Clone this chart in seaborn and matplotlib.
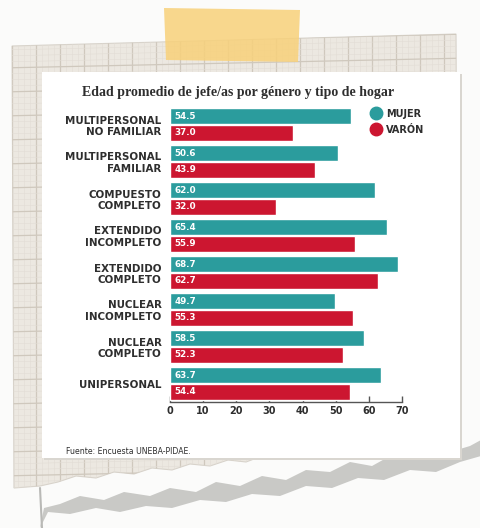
import numpy as np
import pandas as pd
import matplotlib
matplotlib.use("Agg")
import matplotlib.pyplot as plt
from matplotlib.patches import Polygon, Rectangle
from matplotlib.lines import Line2D
import seaborn as sns

# ---- data -------------------------------------------------------------
categorias = [
    "MULTIPERSONAL\nNO FAMILIAR",
    "MULTIPERSONAL\nFAMILIAR",
    "COMPUESTO\nCOMPLETO",
    "EXTENDIDO\nINCOMPLETO",
    "EXTENDIDO\nCOMPLETO",
    "NUCLEAR\nINCOMPLETO",
    "NUCLEAR\nCOMPLETO",
    "UNIPERSONAL",
]
mujer = [54.5, 50.6, 62.0, 65.4, 68.7, 49.7, 58.5, 63.7]
varon = [37.0, 43.9, 32.0, 55.9, 62.7, 55.3, 52.3, 54.4]
xticks = [0, 10, 20, 30, 40, 50, 60, 70]

TEAL = "#2b9c9d"
RED = "#cc1630"
INK = "#2e2e2e"

df = pd.DataFrame({
    "tipo": categorias * 2,
    "genero": ["MUJER"] * len(mujer) + ["VARÓN"] * len(varon),
    "edad": mujer + varon,
})

sns.set_theme(style="white")
plt.rcParams["font.family"] = ["DejaVu Sans"]

W, H = 481, 528
fig = plt.figure(figsize=(W / 100, H / 100), dpi=100)
fig.patch.set_facecolor("#fbfbfa")

# ---- background: squared paper, tape, torn edge, white card ----------
bg = fig.add_axes([0, 0, 1, 1], zorder=0)
bg.set_xlim(0, W)
bg.set_ylim(H, 0)
bg.axis("off")

torn = [(458, 425), (440, 428), (425, 436), (405, 434), (388, 442), (370, 440),
        (352, 448), (334, 446), (318, 452), (300, 450), (282, 458), (262, 456),
        (246, 462), (228, 460), (210, 466), (190, 464), (172, 470), (152, 468),
        (134, 474), (114, 472), (96, 478), (76, 476), (58, 482), (40, 486), (14, 488)]
paper = Polygon([(12, 46), (456, 34)] + torn, closed=True,
                facecolor="#ece8e1", edgecolor="#d8d3cb", lw=0.8, zorder=1)
bg.add_patch(paper)
for gx in np.arange(12, 460, 6):
    major = (gx - 12) % 24 == 0
    ln = Line2D([gx, gx], [20, 500], color="#cfc8bd" if major else "#e2ddd5",
                lw=0.9 if major else 0.4, zorder=2)
    ln.set_clip_path(paper)
    bg.add_line(ln)
for gy in np.arange(40, 500, 6):
    major = (gy - 40) % 24 == 0
    ln = Line2D([0, 470], [gy + 4, gy - 6], color="#cfc8bd" if major else "#e2ddd5",
                lw=0.9 if major else 0.4, zorder=2)
    ln.set_clip_path(paper)
    bg.add_line(ln)

shadow = [(481, 440), (470, 446), (450, 452), (430, 450), (412, 458), (390, 456),
          (372, 466), (350, 462), (330, 472), (306, 470), (286, 480), (262, 476),
          (240, 486), (216, 482), (196, 492), (170, 488), (150, 496), (124, 492),
          (104, 500), (80, 496), (60, 504), (44, 508), (40, 528), (48, 512),
          (70, 514), (96, 508), (120, 512), (146, 506), (172, 508), (200, 500),
          (226, 502), (252, 494), (280, 496), (306, 486), (332, 488), (358, 478),
          (384, 480), (410, 470), (436, 472), (460, 462), (481, 456)]
bg.add_patch(Polygon(shadow, closed=True, facecolor="#c9c9c6", edgecolor="none",
                     zorder=3))
bg.add_line(Line2D([40, 42], [488, 528], color="#b9b9b6", lw=1.5, zorder=3))

bg.add_patch(Rectangle((44, 74), 418, 386, facecolor="#d9d6d0", edgecolor="none",
                       zorder=4))
bg.add_patch(Rectangle((42, 72), 418, 386, facecolor="white", edgecolor="none",
                       zorder=5))
bg.add_patch(Polygon([(164, 8), (300, 10), (298, 62), (166, 60)], closed=True,
                     facecolor="#f8d17a", alpha=0.85, edgecolor="none", zorder=6))

# ---- chart ------------------------------------------------------------
ax = fig.add_axes([170 / W, 1 - 402 / H, 232 / W, 296 / H], zorder=2)
ax.patch.set_alpha(0)
sns.barplot(data=df, y="tipo", x="edad", hue="genero", orient="h",
            palette={"MUJER": TEAL, "VARÓN": RED}, width=0.9, gap=0.03,
            saturation=1, ax=ax, legend=False)

# value labels written at the inner left end of each bar
for cont in ax.containers:
    for rect, val in zip(cont.patches, cont.datavalues):
        ax.text(1.3, rect.get_y() + rect.get_height() / 2, f"{val:.1f}",
                color="white", fontsize=6.3, fontweight="bold",
                ha="left", va="center")

ax.set_xlim(0, 70)
ax.set_xticks(xticks)
ax.set_xticklabels([str(v) for v in xticks], fontsize=7, color=INK,
                   fontweight="bold")
ax.set_xlabel("")
ax.set_ylabel("")
ax.tick_params(axis="y", length=0, pad=6)
ax.tick_params(axis="x", direction="in", length=4, width=1, color="#555555",
               bottom=True, pad=3)
for lab in ax.get_yticklabels():
    lab.set_fontsize(7.4)
    lab.set_fontweight("bold")
    lab.set_color(INK)
    lab.set_multialignment("right")
for side in ["top", "right", "left"]:
    ax.spines[side].set_visible(False)
ax.spines["bottom"].set_color("#555555")
ax.spines["bottom"].set_linewidth(1)

# ---- title, legend, source -------------------------------------------
fig.text(238 / W, 1 - 92 / H, "Edad promedio de jefe/as por género y tipo de hogar",
         family="Liberation Serif", fontweight="bold", fontsize=10,
         color=INK, ha="center", va="center", zorder=3)

handles = [Line2D([], [], marker="o", ls="", color=TEAL, markersize=9),
           Line2D([], [], marker="o", ls="", color=RED, markersize=9)]
leg = fig.legend(handles, ["MUJER", "VARÓN"], loc="upper left",
                 bbox_to_anchor=(362 / W, 1 - 100 / H), frameon=False,
                 handletextpad=0.6, labelspacing=0.6, handlelength=1.0,
                 prop={"size": 7, "weight": "bold"})
for t in leg.get_texts():
    t.set_color(INK)

fig.text(66 / W, 1 - 452 / H, "Fuente: Encuesta UNEBA-PIDAE.", fontsize=5.6,
         color=INK, ha="left", va="center", zorder=3)

fig.savefig("out.png", dpi=100, facecolor=fig.get_facecolor())
